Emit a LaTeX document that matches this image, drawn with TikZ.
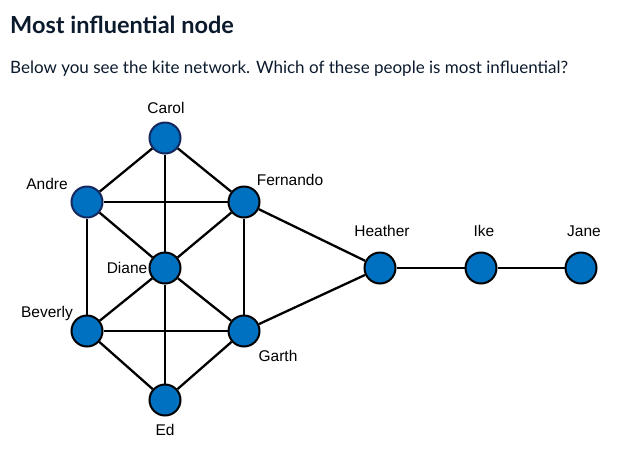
\documentclass[tikz,border=0pt]{standalone}
\usepackage{fontspec}
\setmainfont{Liberation Sans}
\newfontfamily\headfont{Lato}
\usetikzlibrary{positioning}
\definecolor{nodeblue}{HTML}{0070C0}
\definecolor{titlenavy}{HTML}{0B1A2C}
\definecolor{rimnavy}{HTML}{14275E}

\begin{document}
\begin{tikzpicture}[x=1pt, y=-1pt,
  person/.style={circle, fill=nodeblue, draw=black, line width=2pt, minimum size=31pt, inner sep=0pt},
  tie/.style={line width=2.3pt},
  tag/.style={font=\fontsize{15.5}{18}\selectfont}]
\useasboundingbox (0,0) rectangle (642,456);

\node[anchor=base west, inner sep=0pt, text=titlenavy, font=\headfont\bfseries\fontsize{23.5}{28}\selectfont] (title) at (10,33) {Most influential node};
\node[anchor=base west, inner sep=0pt, text=titlenavy, font=\headfont\fontsize{17}{20}\selectfont] (question) at (10,73) {Below you see the kite network. Which of these people is most influential?};

\node[person, draw=rimnavy] (carol) at (165,138) {};
\node[person, draw=rimnavy] (andre) at (87,202) {};
\node[person] (fernando) at (244,202) {};
\node[person] (diane) at (165,268) {};
\node[person] (beverly) at (87,331) {};
\node[person] (garth) at (244,331) {};
\node[person] (ed) at (165,400) {};
\node[person] (heather) at (380,268) {};
\node[person] (ike) at (481,268) {};
\node[person] (jane) at (581,268) {};

\node[tag] (carol-tag) at (166,108) {Carol};
\node[tag] (andre-tag) at (47,184) {Andre};
\node[tag] (fernando-tag) at (290,180) {Fernando};
\node[tag] (diane-tag) at (127,268) {Diane};
\node[tag] (beverly-tag) at (47,313) {Beverly};
\node[tag] (garth-tag) at (278,356) {Garth};
\node[tag] (ed-tag) at (165,430) {Ed};
\node[tag] (heather-tag) at (382,231) {Heather};
\node[tag] (ike-tag) at (484,231) {Ike};
\node[tag] (jane-tag) at (584,231) {Jane};

\foreach \a/\b in {carol/andre, carol/fernando, carol/diane, andre/fernando, andre/diane,
  andre/beverly, fernando/diane, fernando/garth, fernando/heather, diane/beverly,
  diane/garth, diane/ed, beverly/garth, beverly/ed, garth/ed, garth/heather,
  heather/ike, ike/jane}
  \draw[tie] (\a) -- (\b);

\end{tikzpicture}
\end{document}
